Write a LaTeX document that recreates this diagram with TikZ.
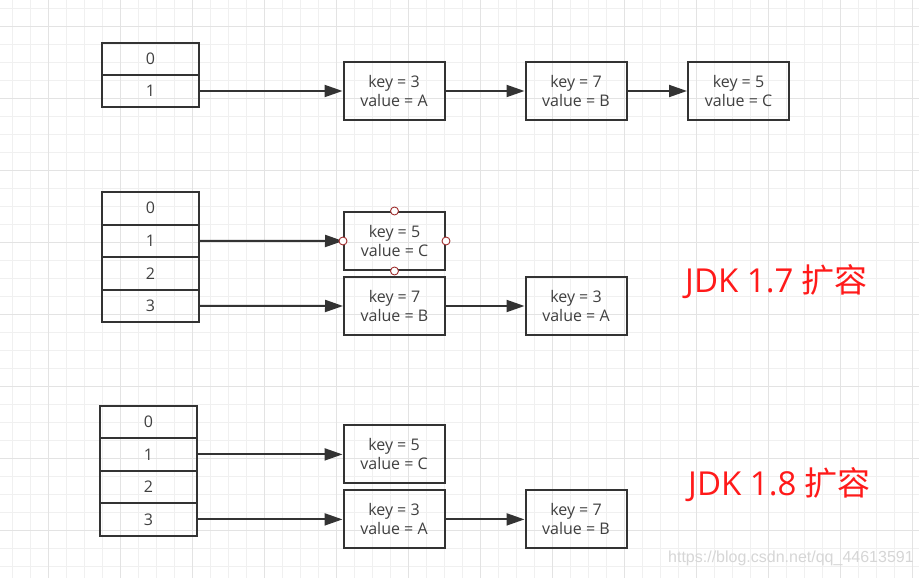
\documentclass[tikz,border=0pt]{standalone}
\usepackage{fontspec}
\setmainfont{Open Sans}
\newfontfamily\cjk{Noto Sans CJK SC}
\newfontfamily\wmfont{Liberation Sans}
\usetikzlibrary{arrows.meta}
\definecolor{ln}{HTML}{333333}
\definecolor{tx}{HTML}{404040}
\definecolor{gmin}{HTML}{F0F0F0}
\definecolor{gmaj}{HTML}{E3E3E3}
\definecolor{jdk}{HTML}{FF1A1A}
\definecolor{hnd}{HTML}{A03030}
\definecolor{wm}{HTML}{D6D6D6}
\begin{document}
\begin{tikzpicture}[x=1pt,y=-1pt,
 cell/.style={draw=ln,line width=2pt,minimum width=97pt,minimum height=32.5pt,inner sep=0pt,font=\fontsize{16}{18}\selectfont,text=tx},
 entry/.style={draw=ln,line width=2pt,minimum width=101pt,minimum height=58pt,inner sep=0pt,align=center,font=\fontsize{16}{19}\selectfont,text=tx},
 link/.style={draw=ln,line width=2pt,-{Triangle[length=18pt,width=12pt]}},
 handle/.style={circle,draw=hnd,fill=white,line width=0.9pt,minimum size=8pt,inner sep=0pt},
 title/.style={text=jdk,font=\fontsize{33}{38}\selectfont,anchor=west,inner sep=0pt},
 mark text/.style={text=wm,font=\wmfont\fontsize{16}{18}\selectfont,anchor=west,inner sep=0pt}]
\fill[white] (0,0) rectangle (919,578);
\useasboundingbox (0,0) rectangle (919,578);
% grid
\foreach \x in {12.7,30.7,...,918} \draw[gmin,line width=1pt] (\x,0) -- (\x,578);
\foreach \y in {8.5,26.5,...,577} \draw[gmin,line width=1pt] (0,\y) -- (919,\y);
\foreach \x in {48.7,120.7,...,918} \draw[gmaj,line width=1pt] (\x,0) -- (\x,578);
\foreach \y in {26.5,98.5,...,577} \draw[gmaj,line width=1pt] (0,\y) -- (919,\y);
% array 1
\node[cell] (a1c0) at (150.5,59) {0};
\node[cell] (a1c1) at (150.5,91) {1};
\node[entry] (e11) at (394,91) {key = 3\\value = A};
\node[entry] (e12) at (576,91) {key = 7\\value = B};
\node[entry] (e13) at (738.5,91) {key = 5\\value = C};
\draw[link] (a1c1.east) -- (e11.west);
\draw[link] (e11.east) -- (e12.west);
\draw[link] (e12.east) -- (e13.west);
% array 2
\node[cell] (a2c0) at (150.5,208.25) {0};
\node[cell] (a2c1) at (150.5,240.75) {1};
\node[cell] (a2c2) at (150.5,273.25) {2};
\node[cell] (a2c3) at (150.5,305.75) {3};
\node[entry] (e21) at (394.5,241) {key = 5\\value = C};
\node[entry] (e22) at (394.5,306) {key = 7\\value = B};
\node[entry] (e23) at (576,306) {key = 3\\value = A};
\draw[link] (a2c1.east) -- (e21.west);
\draw[link] (a2c3.east) -- (e22.west);
\draw[link] (e22.east) -- (e23.west);
\node[handle] (h1) at (e21.north) {};
\node[handle] (h2) at (e21.south) {};
\node[handle] (h3) at (e21.west) {};
\node[handle] (h4) at (e21.east) {};
\node[title] (t17) at (685,282) {JDK 1.7 {\cjk 扩容}};
% array 3
\node[cell] (a3c0) at (148.5,421.9) {0};
\node[cell] (a3c1) at (148.5,454.4) {1};
\node[cell] (a3c2) at (148.5,486.9) {2};
\node[cell] (a3c3) at (148.5,519.4) {3};
\node[entry] (e31) at (394,454.4) {key = 5\\value = C};
\node[entry] (e32) at (394,519.4) {key = 3\\value = A};
\node[entry] (e33) at (576,519.4) {key = 7\\value = B};
\draw[link] (a3c1.east) -- (e31.west);
\draw[link] (a3c3.east) -- (e32.west);
\draw[link] (e32.east) -- (e33.west);
\node[title] (t18) at (688,485) {JDK 1.8 {\cjk 扩容}};
\node[mark text] (wmk) at (668,558) {https://blog.csdn.net/qq\_44613591};
\end{tikzpicture}
\end{document}
